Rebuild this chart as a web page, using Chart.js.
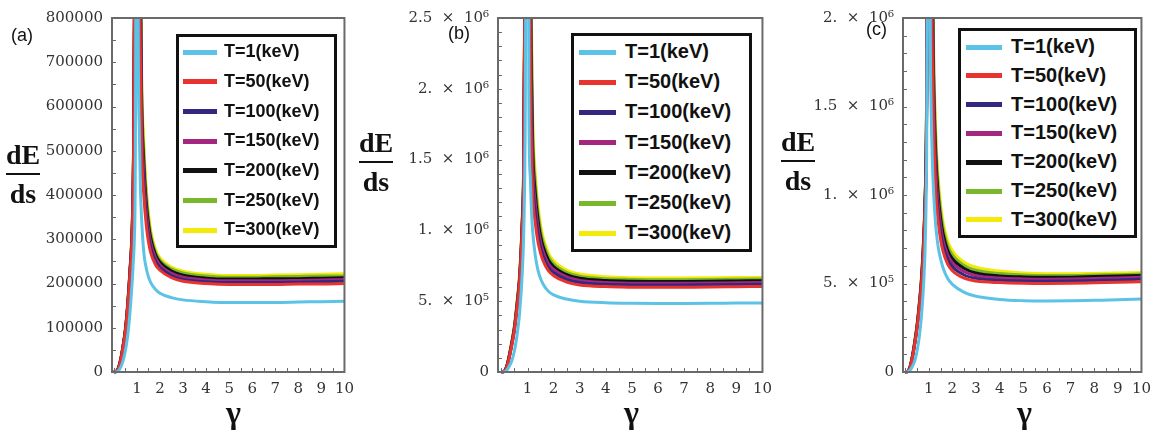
<!DOCTYPE html>
<html>
<head>
<meta charset="utf-8">
<script src="https://cdn.jsdelivr.net/npm/chart.js@4.4.1/dist/chart.umd.min.js"></script>
<style>
  html, body { margin: 0; padding: 0; background: #fff; }
  #wrap { position: relative; width: 1159px; height: 433px; overflow: hidden; }
  canvas { position: absolute; top: 0; }
  .lbl { position: absolute; font-family: "Liberation Sans", Arial, sans-serif; font-size: 18px; color: #111; }
  .frac { position: absolute; font-family: "Liberation Serif", serif; font-weight: bold; font-size: 28px; color: #111; text-align: center; line-height: 26px; }
  .frac .bar { border-top: 2px solid #111; margin: 5px 0 6px 0; }
  .gam { position: absolute; font-family: "Liberation Serif", serif; font-weight: bold; font-size: 32px; color: #111; }
  .legend { position: absolute; box-sizing: border-box; border: 3px solid #111; background: #fff; }
  .legend .sw { position: absolute; height: 5px; }
  .legend .tx { position: absolute; font-family: "Liberation Sans", Arial, sans-serif; font-weight: bold; color: #111; white-space: nowrap; }
</style>
</head>
<body>
<div id="wrap">
  <canvas id="ca" width="362" height="433" style="left:0px"></canvas>
  <canvas id="cb" width="400" height="433" style="left:380px"></canvas>
  <canvas id="cc" width="379" height="433" style="left:780px"></canvas>
</div>
<script>
// gamma values where the curves were read (shared by all series)
var gammaGrid = [0, 0.1, 0.2, 0.3, 0.4, 0.5, 0.6, 0.7, 0.8, 0.85, 0.9, 0.95, 1.0, 1.05, 1.1, 1.15, 1.2, 1.3, 1.4, 1.5, 1.6, 1.8, 2, 2.5, 3, 4, 5, 6, 7, 8, 9, 10];

var seriesLabels = ['T=1(keV)', 'T=50(keV)', 'T=100(keV)', 'T=150(keV)', 'T=200(keV)', 'T=250(keV)', 'T=300(keV)'];
var seriesColors = ['#5cc3e6', '#e8332f', '#33287f', '#a3277f', '#111111', '#78b82a', '#f4ea0a'];

// panel (a), dE/ds in thousands
var aT1   = [0, 0, 3, 11, 25, 48, 82, 135, 207, 255, 320, 800, 5000, 900, 560, 420, 350, 270, 236, 215, 202, 187, 178, 168, 163, 159, 157, 157, 157, 158, 159, 160];
var aT50  = [0, 1, 8, 27, 55, 90, 145, 220, 320, 460, 850, 2000, 5000, 2600, 1100, 720, 520, 400, 335, 295, 270, 243, 230, 213, 205, 200, 198, 198, 198, 199, 199, 200];
var aT100 = [0, 1, 9, 28, 57, 92, 148, 224, 326, 468, 865, 2050, 5000, 2700, 1230, 790, 560, 425, 352, 308, 281, 251, 236, 218, 209, 204, 202, 202, 202, 203, 204, 205];
var aT150 = [0, 1, 9, 28, 58, 94, 150, 227, 330, 475, 875, 2100, 5000, 2800, 1370, 860, 600, 450, 370, 322, 292, 259, 242, 223, 214, 208, 206, 206, 206, 207, 208, 209];
var aT200 = [0, 1, 9, 29, 59, 95, 152, 229, 334, 480, 885, 2150, 5000, 2900, 1500, 920, 635, 472, 387, 335, 302, 266, 248, 228, 219, 212, 210, 210, 211, 211, 212, 213];
var aT250 = [0, 1, 10, 30, 60, 96, 154, 231, 337, 485, 893, 2180, 5000, 3050, 1650, 985, 670, 496, 404, 348, 311, 272, 253, 233, 224, 217, 214, 214, 215, 216, 217, 217];
var aT300 = [0, 2, 10, 30, 60, 97, 155, 232, 340, 490, 900, 2200, 5000, 3200, 1800, 1050, 700, 520, 420, 360, 320, 278, 258, 237, 228, 221, 218, 218, 219, 220, 221, 222];

// panel (b)
var bT1   = [0, 1, 10, 40, 80, 150, 260, 420, 700, 950, 1500, 3500, 15000, 2000, 1400, 1150, 990, 820, 720, 660, 620, 570, 545, 515, 500, 489, 485, 484, 484, 485, 487, 488];
var bT50  = [0, 3, 30, 100, 190, 292, 450, 640, 1020, 1330, 2600, 6000, 15000, 5000, 2400, 1600, 1250, 1050, 920, 840, 785, 715, 680, 635, 615, 603, 599, 598, 599, 600, 602, 604];
var bT100 = [0, 4, 33, 105, 196, 300, 460, 652, 1035, 1355, 2650, 6100, 15000, 5600, 2700, 1780, 1360, 1120, 975, 880, 818, 740, 703, 654, 632, 619, 615, 614, 615, 616, 618, 620];
var bT150 = [0, 4, 35, 109, 202, 308, 470, 664, 1050, 1380, 2700, 6200, 15000, 6200, 3000, 1950, 1470, 1190, 1025, 920, 852, 765, 725, 671, 647, 632, 627, 626, 627, 628, 630, 632];
var bT200 = [0, 4, 37, 113, 208, 316, 480, 676, 1065, 1405, 2750, 6300, 15000, 6800, 3300, 2130, 1580, 1260, 1080, 960, 885, 792, 745, 688, 662, 646, 641, 640, 640, 641, 643, 645];
var bT250 = [0, 5, 39, 117, 214, 323, 490, 688, 1080, 1430, 2800, 6400, 15000, 7400, 3650, 2320, 1690, 1330, 1130, 1000, 918, 816, 765, 704, 677, 659, 654, 652, 652, 653, 655, 657];
var bT300 = [0, 5, 40, 120, 220, 330, 500, 700, 1100, 1450, 2900, 6500, 15000, 8000, 4000, 2500, 1800, 1400, 1180, 1040, 950, 840, 785, 720, 692, 673, 666, 664, 664, 665, 667, 668];

// panel (c)
var cT1   = [0, 1, 8, 30, 60, 115, 200, 330, 540, 720, 1100, 2500, 12000, 2600, 1500, 1200, 1030, 820, 705, 640, 590, 528, 495, 450, 428, 410, 403, 401, 402, 405, 408, 412];
var cT50  = [0, 2, 22, 75, 150, 240, 360, 510, 760, 950, 1300, 3000, 12000, 5000, 2600, 1800, 1400, 1020, 850, 750, 685, 610, 572, 530, 514, 505, 501, 500, 501, 504, 507, 510];
var cT100 = [0, 2, 23, 78, 154, 245, 367, 519, 772, 965, 1330, 3050, 12000, 5500, 2880, 1960, 1500, 1090, 900, 790, 718, 636, 595, 548, 529, 518, 514, 513, 514, 517, 520, 525];
var cT150 = [0, 2, 24, 80, 158, 251, 375, 528, 784, 980, 1360, 3100, 12000, 6000, 3150, 2130, 1600, 1150, 950, 830, 750, 662, 617, 567, 544, 531, 526, 524, 525, 528, 531, 535];
var cT200 = [0, 3, 25, 83, 162, 256, 382, 537, 796, 998, 1390, 3150, 12000, 6500, 3430, 2290, 1700, 1220, 1000, 870, 785, 688, 640, 585, 559, 543, 537, 535, 536, 539, 542, 545];
var cT250 = [0, 3, 27, 86, 166, 260, 388, 546, 808, 1014, 1420, 3250, 12000, 7000, 3710, 2450, 1800, 1285, 1050, 910, 818, 714, 662, 602, 575, 556, 548, 545, 545, 548, 550, 553];
var cT300 = [0, 3, 28, 88, 170, 265, 395, 555, 820, 1030, 1450, 3300, 12000, 7500, 4000, 2600, 1900, 1350, 1100, 950, 850, 740, 685, 620, 592, 570, 559, 555, 555, 557, 559, 562];

// tick labels
var yTicksA = ['0', '100000', '200000', '300000', '400000', '500000', '600000', '700000', '800000'];
var yTicksB = ['0', '5.  \u00d7  10\u2075', '1.  \u00d7  10\u2076', '1.5  \u00d7  10\u2076', '2.  \u00d7  10\u2076', '2.5  \u00d7  10\u2076'];
var yTicksC = ['0', '5.  \u00d7  10\u2075', '1.  \u00d7  10\u2076', '1.5  \u00d7  10\u2076', '2.  \u00d7  10\u2076'];

var framePlugin = {
	id: 'frame',
	afterDatasetsDraw: function(chart, args, opts){
		var ctx = chart.ctx, a = chart.chartArea, x = chart.scales.x, y = chart.scales.y;
		ctx.save();
		ctx.strokeStyle = '#6a6a6a';
		ctx.lineWidth = 1;
		ctx.beginPath();
		for (var v = 0; v <= x.max + 1e-9; v += opts.xStep) {
			var px = Math.round(x.getPixelForValue(v)) + 0.5;
			ctx.moveTo(px, a.bottom); ctx.lineTo(px, a.bottom - 4);
		}
		for (var w = y.min; w <= y.max + 1e-9; w += opts.yStep) {
			var py = Math.round(y.getPixelForValue(w)) + 0.5;
			ctx.moveTo(a.left, py); ctx.lineTo(a.left + 4, py);
		}
		ctx.stroke();
		ctx.lineWidth = 2;
		ctx.strokeRect(a.left, a.top, a.right - a.left, a.bottom - a.top);
		ctx.restore();
	}
};

function makePanel(id, series, cfg){
	var datasets = series.map(function(vals, i){
		return {
			label: seriesLabels[i],
			data: vals.map(function(v, k){ return {x: gammaGrid[k], y: v}; }),
			borderColor: seriesColors[i],
			borderWidth: 3,
			pointRadius: 0,
			fill: false,
			cubicInterpolationMode: 'monotone',
			clip: {left: 2, top: 0, right: 0, bottom: 2}
		};
	});
	return new Chart(document.getElementById(id), {
		type: 'line',
		data: {datasets: datasets},
		plugins: [framePlugin],
		options: {
			responsive: false,
			animation: false,
			layout: {padding: {top: cfg.top, right: cfg.right, left: 0, bottom: 0}},
			plugins: {
				legend: {display: false},
				tooltip: {enabled: false},
				frame: {xStep: 0.5, yStep: cfg.minor}
			},
			scales: {
				x: {
					type: 'linear', min: cfg.xMin, max: 10,
					grid: {display: false, drawTicks: false},
					border: {display: false},
					afterBuildTicks: function(s){
						s.ticks = gammaTicks.map(function(v){ return {value: v}; });
					},
					ticks: {
						padding: 8, autoSkip: false, maxRotation: 0,
						color: '#333', font: {family: 'DejaVu Serif', size: 15},
						callback: function(v){ return String(v); }
					},
					afterFit: function(s){ s.height = 61; }
				},
				y: {
					min: 0, max: cfg.max,
					grid: {display: false, drawTicks: false},
					border: {display: false},
					ticks: {
						stepSize: cfg.step, padding: 9, autoSkip: false,
						color: '#333', font: {family: 'DejaVu Serif', size: cfg.tickSize},
						callback: function(v){ return cfg.labels[Math.round(v / cfg.step)]; }
					},
					afterFit: function(s){ s.width = cfg.axisW; }
				}
			}
		}
	});
}

var gammaTicks = [1, 2, 3, 4, 5, 6, 7, 8, 9, 10];

makePanel('ca', [aT1, aT50, aT100, aT150, aT200, aT250, aT300],
	{max: 800, step: 100, minor: 50, labels: yTicksA, top: 16, right: 16, axisW: 112, tickSize: 15, xMin: -0.08});
makePanel('cb', [bT1, bT50, bT100, bT150, bT200, bT250, bT300],
	{max: 2500, step: 500, minor: 100, labels: yTicksB, top: 12, right: 13, axisW: 118, tickSize: 15, xMin: -0.13});
makePanel('cc', [cT1, cT50, cT100, cT150, cT200, cT250, cT300],
	{max: 2000, step: 500, minor: 100, labels: yTicksC, top: 11, right: 11, axisW: 123, tickSize: 15, xMin: -0.09});

// overlay labels and legends
var wrap = document.getElementById('wrap');
function add(cls, html, css){
	var d = document.createElement('div');
	d.className = cls; d.innerHTML = html;
	for (var k in css) d.style[k] = css[k];
	wrap.appendChild(d);
	return d;
}

add('lbl', '(a)', {left: '11px', top: '25px'});
add('lbl', '(b)', {left: '448px', top: '23px'});
add('lbl', '(c)', {left: '866px', top: '19px'});

var fracs = [{left: 6, top: 142}, {left: 359, top: 130}, {left: 781, top: 129}];
fracs.forEach(function(p){
	add('frac', '<div>dE</div><div class="bar"></div><div>ds</div>', {left: p.left + 'px', top: p.top + 'px', width: '34px'});
});

[226, 624, 1017].forEach(function(x){ add('gam', '\u03b3', {left: x + 'px', top: '394px'}); });

var legends = [
	{left: 176, top: 34, width: 161, height: 214, rowTop: 18, gap: 29.7, swL: 7, swW: 34, txL: 48, font: 18},
	{left: 571, top: 33, width: 181, height: 219, rowTop: 19, gap: 30.2, swL: 8, swW: 37, txL: 54, font: 20},
	{left: 958, top: 28, width: 179, height: 210, rowTop: 19, gap: 28.8, swL: 8, swW: 36, txL: 53, font: 20}
];
legends.forEach(function(L){
	var box = add('legend', '', {left: L.left + 'px', top: L.top + 'px', width: L.width + 'px', height: L.height + 'px'});
	seriesLabels.forEach(function(name, i){
		var cy = L.rowTop + i * L.gap - 3;
		var sw = document.createElement('div');
		sw.className = 'sw';
		sw.style.left = (L.swL - 3) + 'px'; sw.style.width = L.swW + 'px';
		sw.style.top = (cy - 2.5) + 'px'; sw.style.background = seriesColors[i];
		box.appendChild(sw);
		var tx = document.createElement('div');
		tx.className = 'tx'; tx.textContent = name;
		tx.style.left = (L.txL - 3) + 'px'; tx.style.fontSize = L.font + 'px';
		tx.style.top = (cy - L.font * 0.6) + 'px';
		box.appendChild(tx);
	});
});
</script>
</body>
</html>
